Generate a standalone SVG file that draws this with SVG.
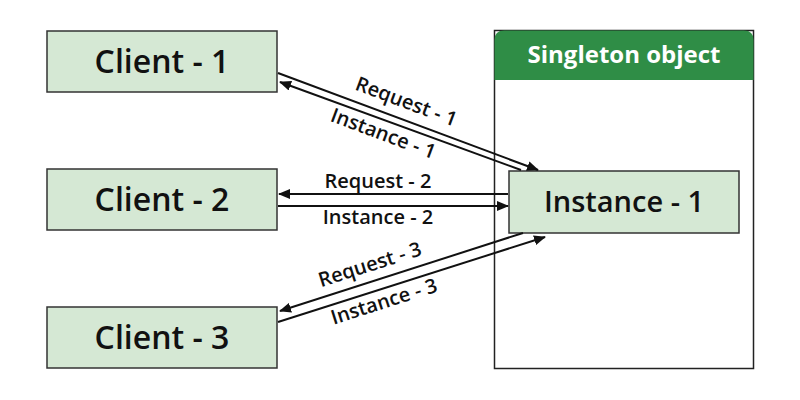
<svg xmlns="http://www.w3.org/2000/svg" width="800" height="400" viewBox="0 0 800 400">
<style>
.box{fill:#d5e8d4;stroke:#333;stroke-width:1.5}
.big{font-family:"Open Sans","Noto Sans",sans-serif;font-weight:600;font-size:32px;fill:#111;text-anchor:middle}
.lbl{font-family:"Open Sans","Noto Sans",sans-serif;font-weight:600;font-size:20px;fill:#111;text-anchor:middle}
.ln{stroke:#111;stroke-width:2;fill:none;marker-end:url(#ah)}
</style>
<defs><marker id="ah" markerWidth="12" markerHeight="10" refX="11" refY="5" orient="auto" markerUnits="userSpaceOnUse"><path d="M0,0 L12,5 L0,10 Z" fill="#111"/></marker></defs>
<rect width="800" height="400" fill="#fff"/>
<g id="singleton">
<rect x="494.5" y="30.5" width="259" height="338" fill="#fff" stroke="#222" stroke-width="1.5"/>
<path d="M494.5,80 V40 Q494.5,30.5 504,30.5 H744 Q753.5,30.5 753.5,40 V80 Z" fill="#2f8d46"/>
<text x="624" y="63" font-family="Open Sans,Noto Sans,sans-serif" font-weight="700" font-size="24" fill="#fff" text-anchor="middle">Singleton object</text>
</g>
<g id="client1"><rect class="box" x="47" y="31" width="230" height="61"/><text class="big" x="162" y="73">Client - 1</text></g>
<g id="client2"><rect class="box" x="47" y="169" width="230" height="61"/><text class="big" x="162" y="211">Client - 2</text></g>
<g id="client3"><rect class="box" x="47" y="307" width="230" height="61"/><text class="big" x="162" y="349">Client - 3</text></g>
<g id="instance1"><rect class="box" x="509" y="171" width="230" height="62"/><text class="big" x="624" y="212" style="font-size:29px">Instance - 1</text></g>
<g id="connectors">
<line class="ln" x1="278" y1="73" x2="538" y2="170"/>
<line class="ln" x1="521" y1="170" x2="280" y2="82"/>
<line class="ln" x1="508" y1="194" x2="279" y2="194"/>
<line class="ln" x1="278" y1="206" x2="508" y2="206"/>
<line class="ln" x1="523" y1="233" x2="280" y2="311"/>
<line class="ln" x1="278" y1="322" x2="545" y2="237"/>
<text class="lbl" transform="translate(404,108) rotate(20.5)">Request - 1</text>
<text class="lbl" transform="translate(381,140) rotate(20.5)">Instance - 1</text>
<text class="lbl" x="378" y="188">Request - 2</text>
<text class="lbl" x="378" y="224">Instance - 2</text>
<text class="lbl" transform="translate(372,271) rotate(-17.7)">Request - 3</text>
<text class="lbl" transform="translate(386,308) rotate(-17.7)">Instance - 3</text>
</g>
</svg>
